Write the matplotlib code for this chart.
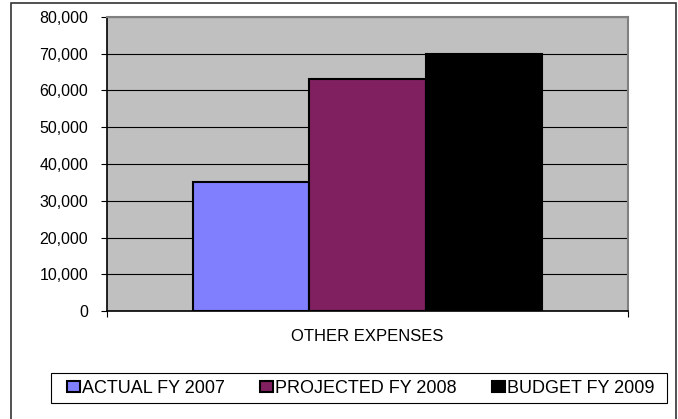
import numpy as np
import matplotlib.pyplot as plt
from matplotlib.patches import Rectangle

# expense data
category = 'OTHER EXPENSES'
series = ['ACTUAL FY 2007', 'PROJECTED FY 2008', 'BUDGET FY 2009']
values = [35000, 63000, 70000]
colors = ['#8080FF', '#802060', '#000000']

plt.rcParams['font.family'] = ['Liberation Sans', 'DejaVu Sans']

W, H = 678, 419
fig = plt.figure(figsize=(W / 100, H / 100), dpi=100)
ax = fig.add_axes([107 / W, 1 - 311 / H, (628 - 107) / W, (311 - 17) / H])
ax.set_facecolor('#C0C0C0')

width = 0.223
offsets = (np.arange(len(values)) - 1) * width
for off, v, c, name in zip(offsets, values, colors, series):
    ax.bar(off, v, width=width, color=c, edgecolor='black', linewidth=1.5,
           label=name, zorder=3)

ax.set_xlim(-0.5, 0.5)
ax.set_ylim(0, 80000)
ax.set_yticks(np.arange(0, 80001, 10000))
ax.set_yticklabels([f'{t:,}' for t in range(0, 80001, 10000)], fontsize=11.5)
ax.yaxis.grid(True, color='black', linewidth=0.8)
ax.set_axisbelow(True)
ax.tick_params(axis='y', direction='out', length=4.5, width=0.8, pad=9)

ax.set_xticks([0])
ax.set_xticklabels([category], fontsize=12)
ax.set_xticks([-0.5, 0.5], minor=True)
ax.tick_params(axis='x', which='major', length=0, pad=13)
ax.tick_params(axis='x', which='minor', direction='out', length=4, width=0.8)

for s in ['top', 'right']:
    ax.spines[s].set_color('#808080')
    ax.spines[s].set_linewidth(1.5)
for s in ['left', 'bottom']:
    ax.spines[s].set_color('black')
    ax.spines[s].set_linewidth(1.2)

# legend entries, with the box drawn separately below
leg = fig.legend(loc='center left', bbox_to_anchor=(67 / W, 1 - 388.5 / H),
                 ncol=3, fontsize=13, frameon=False,
                 handlelength=0.72, handleheight=0.61,
                 handletextpad=0.11, columnspacing=1.95, borderpad=0,
                 borderaxespad=0)
fig.patches.append(Rectangle((51 / W, 1 - 403 / H), (667 - 51) / W, 30 / H,
                             transform=fig.transFigure, fill=False,
                             edgecolor='black', linewidth=0.8))

# outer chart border
fig.patches.append(Rectangle((11 / W, -0.05), (676 - 11) / W, 1.05 - 3 / H,
                             transform=fig.transFigure, fill=False,
                             edgecolor='#333333', linewidth=1.2))

fig.savefig('out.png', dpi=100)
